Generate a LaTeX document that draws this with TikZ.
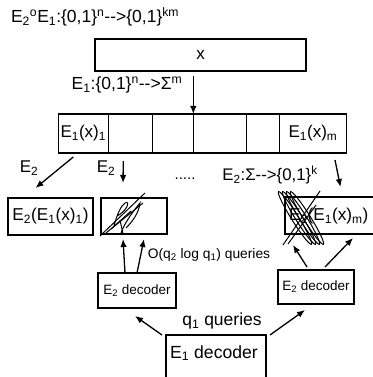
\documentclass[tikz,border=0pt]{standalone}
\usepackage{fontspec}
\setmainfont{Liberation Sans}
\usetikzlibrary{arrows.meta}

\newcommand{\fs}[1]{\fontsize{#1}{#1}\selectfont}

\begin{document}
\begin{tikzpicture}[x=1pt,y=-1pt,
    every node/.style={inner sep=0pt,outer sep=0pt},
    box/.style={draw,line width=1.3pt},
    cell/.style={box,minimum height=39,font=\fs{17}},
    arr/.style={line width=1.3pt,-{Latex[length=8pt,width=6.5pt]}},
    scrib/.style={line width=1pt}]
  \useasboundingbox (0,0) rectangle (372,377);

  % top line and source word
  \node[anchor=west,font=\fs{17.5}] (title) at (11,17)
     {E\textsubscript{2}\textsuperscript{o}E\textsubscript{1}:\{0,1\}\textsuperscript{n}-{}->\{0,1\}\textsuperscript{km}};
  \node[box,minimum width=211,minimum height=32,font=\fs{17}] (xbox) at (200.5,55) {x};
  \node[font=\fs{17.5}] (e1lab) at (127,85)
     {E\textsubscript{1}:\{0,1\}\textsuperscript{n}-{}->Σ\textsuperscript{m}};

  % codeword of E1
  \node[cell,minimum width=50] (c1) at (83.3,133.5) {E\textsubscript{1}(x)\textsubscript{1}};
  \node[cell,minimum width=44] (c2) at (130.3,133.5) {};
  \node[cell,minimum width=41] (c3) at (172.8,133.5) {};
  \node[cell,minimum width=53.4] (c4) at (220,133.5) {};
  \node[cell,minimum width=32.6] (c5) at (263,133.5) {};
  \node[cell,minimum width=67.4] (c6) at (313,133.5) {E\textsubscript{1}(x)\textsubscript{m}};
  \coordinate (xout) at (193.3,76);
  \draw[arr] (xout) -- (c3.north east);

  % inner encodings
  \node[box,minimum width=85,minimum height=37,font=\fs{17.2}] (b1) at (50.5,216.5)
     {E\textsubscript{2}(E\textsubscript{1}(x)\textsubscript{1})};
  \node[box,minimum width=66,minimum height=36] (b2) at (134,216) {};
  \node[box,minimum width=93,minimum height=37,anchor=west] (bm) at (285,215.5) {};
  \node[anchor=west,font=\fs{17.2}] (bmtxt) at (289,216)
     {E\textsubscript{2}(E\textsubscript{1}(x)\textsubscript{m})};

  \node[font=\fs{17}] (l1) at (29,168) {E\textsubscript{2}};
  \node[font=\fs{17}] (l2) at (106,168) {E\textsubscript{2}};
  \node[font=\fs{15}] (dots) at (185,179) {.....};
  \node[font=\fs{16.8}] (l3) at (270,175) {E\textsubscript{2}:Σ-{}->\{0,1\}\textsuperscript{k}};
  \draw[arr] ([shift={(-10,4)}]c1.south) -- ([shift={(-15,-10)}]b1.north);
  \draw[arr] ([shift={(-7,8)}]c2.south) -- ([shift={(-11,-15)}]b2.north);
  \draw[arr] ([shift={(22,7)}]c6.south) -- ([shift={(9,-10)}]bm.north);

  % scribbles
  \draw[scrib] (100,236) -- (145,193);
  \draw[scrib] (106,233) -- (143,203);
  \draw[scrib] (114,226) .. controls (117,214) and (121,206) .. (125,203)
     .. controls (131,200) and (127,211) .. (117,216);
  \draw[scrib] (121,233) .. controls (125,222) and (134,210) .. (140,203)
     .. controls (139,213) and (132,222) .. (126,228);
  \draw[scrib] (111,229) -- (131,211);
  \draw[scrib] (120,220) -- (123,234);
  \foreach \d in {-5,-1,3,7} {
    \draw[scrib,rotate around={-58:(300+\d,218)}] (300+\d,218) ellipse (31 and 3.5);
  }
  \draw[scrib] (283,245) -- (320,191);
  \draw[scrib] (288,244) -- (316,205);

  % decoders
  \node[box,minimum width=78,minimum height=35,font=\fs{13.5}] (d2l) at (137,290.5)
     {E\textsubscript{2} decoder};
  \node[box,minimum width=76,minimum height=34,font=\fs{13.5}] (d2r) at (316,287)
     {E\textsubscript{2} decoder};
  \node[font=\fs{13.8}] (q2lab) at (209,255) {O(q\textsubscript{2} log q\textsubscript{1}) queries};
  \draw[arr] ([xshift=-12]d2l.north) -- ([shift={(-11,5)}]b2.south);
  \draw[arr] (d2l.north) -- ([shift={(10,5)}]b2.south);
  \draw[arr] ([shift={(-9,-3)}]d2r.north) -- (293,245);
  \draw[arr] ([shift={(9,-3)}]d2r.north) -- ([shift={(-25,4)}]bm.south east);

  \node[box,minimum width=100,minimum height=60,anchor=north] (d1) at (216,335) {};
  \node[font=\fs{17.6}] (d1txt) at (214,353) {E\textsubscript{1} decoder};
  \node[font=\fs{17.5}] (q1lab) at (222,321) {q\textsubscript{1} queries};
  \draw[arr] ([xshift=-4]d1.north west) -- ([shift={(-2,8)}]d2l.south);
  \draw[arr] ([xshift=4]d1.north east) -- ([shift={(-11,6)}]d2r.south);
\end{tikzpicture}
\end{document}
